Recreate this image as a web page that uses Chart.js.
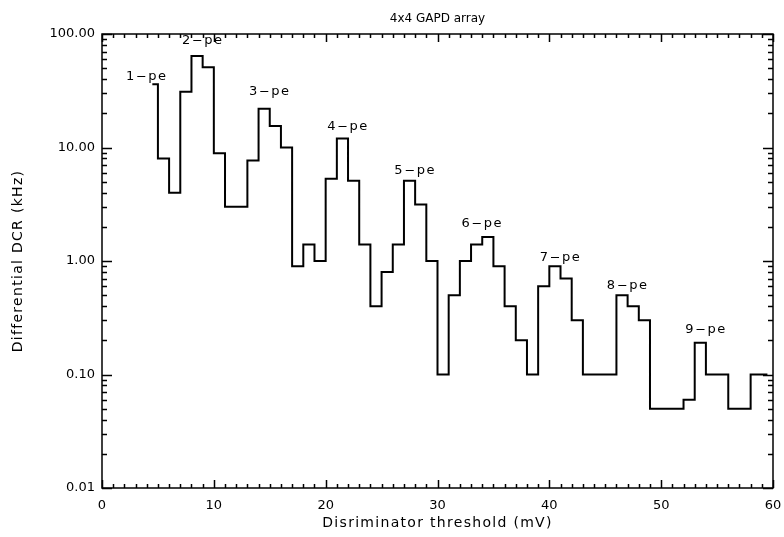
<!DOCTYPE html>
<html>
<head>
<meta charset="utf-8">
<title>4x4 GAPD array</title>
<script src="https://cdn.jsdelivr.net/npm/chart.js@4.4.1/dist/chart.umd.min.js"></script>
<style>
  html, body { margin: 0; padding: 0; background: #fff; }
  #wrap { width: 784px; height: 537px; }
</style>
</head>
<body>
<div id="wrap"><canvas id="chartDcr" width="784" height="537"></canvas></div>
<script>
// ── Differential DCR per 1 mV threshold bin (bin centres) ────────────────
const thresholdMv = [
    4.5, 5.5, 6.5, 7.5, 8.5, 9.5, 10.5, 11.5, 12.5, 13.5,
    14.5, 15.5, 16.5, 17.5, 18.5, 19.5, 20.5, 21.5, 22.5, 23.5,
    24.5, 25.5, 26.5, 27.5, 28.5, 29.5, 30.5, 31.5, 32.5, 33.5,
    34.5, 35.5, 36.5, 37.5, 38.5, 39.5, 40.5, 41.5, 42.5, 43.5,
    44.5, 45.5, 46.5, 47.5, 48.5, 49.5, 50.5, 51.5, 52.5, 53.5,
    54.5, 55.5, 56.5, 57.5, 58.5, 59.5
];
const dcrKhz = [
    36, 8, 4, 31, 64, 51, 8.9, 3, 3, 7.7,
    22, 15.5, 10, 0.9, 1.4, 1.0, 5.3, 12, 5.1, 1.4,
    0.4, 0.8, 1.4, 5.1, 3.15, 1.0, 0.1, 0.5, 1.0, 1.4,
    1.63, 0.9, 0.4, 0.2, 0.1, 0.6, 0.9, 0.7, 0.3, 0.1,
    0.1, 0.1, 0.5, 0.4, 0.3, 0.05, 0.05, 0.05, 0.06, 0.19,
    0.1, 0.1, 0.05, 0.05, 0.1, 0.1
];

// photo-electron peak labels (centre x, baseline y in data units)
const peLabels   = ['1-pe', '2-pe', '3-pe', '4-pe', '5-pe', '6-pe', '7-pe', '8-pe', '9-pe'];
const peLabelMv  = [4, 9, 15, 22, 28, 34, 41, 47, 54];
const peLabelKhz = [39, 82, 29, 14.4, 5.8, 2.0, 1.0, 0.57, 0.23];

const xTicks = [0, 10, 20, 30, 40, 50, 60];
const yTicks = [0.01, 0.1, 1, 10, 100];

const TITLE  = '4x4 GAPD array';
const XTITLE = 'Disriminator threshold (mV)';
const YTITLE = 'Differential DCR (kHz)';
const FONT = 'DejaVu Sans';

// "n-pe" with a long dash, centred on cx
function drawPeLabel(ctx, text, cx, by) {
    const [num, rest] = text.split('-');
    const dashW = 11, gap = 1.5;
    ctx.letterSpacing = '0px';
    const wNum  = ctx.measureText(num).width;
    const wDash = ctx.measureText('-').width;
    ctx.letterSpacing = '1.5px';
    const wRest = ctx.measureText(rest).width;
    let x0 = cx - (wNum + gap + dashW + gap + wRest) / 2;

    ctx.letterSpacing = '0px';
    ctx.fillText(num, x0, by);
    x0 += wNum + gap;
    ctx.save();
    ctx.translate(x0, by);
    ctx.scale(dashW / wDash, 1);
    ctx.fillText('-', 0, 0);
    ctx.restore();
    x0 += dashW + gap;
    ctx.letterSpacing = '1.5px';
    ctx.fillText(rest, x0, by);
    ctx.letterSpacing = '0px';
}

// ── Frame with inward ticks on all four sides, titles and peak labels ────
const frameTicks = {
    id: 'frameTicks',
    afterDatasetsDraw(chart) {
        const { ctx, chartArea: a, scales: { x, y } } = chart;
        ctx.save();
        ctx.strokeStyle = '#000';
        ctx.lineWidth = 1.5;
        ctx.strokeRect(a.left, a.top, a.right - a.left, a.bottom - a.top);

        ctx.beginPath();
        const tickX = (v, len) => {
            const px = Math.round(x.getPixelForValue(v)) + 0.5;
            ctx.moveTo(px, a.bottom); ctx.lineTo(px, a.bottom - len);
            ctx.moveTo(px, a.top);    ctx.lineTo(px, a.top + len);
        };
        const tickY = (v, len) => {
            const py = Math.round(y.getPixelForValue(v)) + 0.5;
            ctx.moveTo(a.left, py);  ctx.lineTo(a.left + len, py);
            ctx.moveTo(a.right, py); ctx.lineTo(a.right - len, py);
        };
        for (let v = x.min; v <= x.max; v++) tickX(v, v % 10 === 0 ? 8 : 4);
        yTicks.forEach((d, i) => {
            tickY(d, 10);
            if (i < yTicks.length - 1) for (let m = 2; m <= 9; m++) tickY(d * m, 5);
        });
        ctx.stroke();

        ctx.fillStyle = '#000';
        ctx.textAlign = 'center';
        const cx = (a.left + a.right) / 2;

        // plot title
        ctx.font = '12px "' + FONT + '"';
        ctx.textBaseline = 'middle';
        ctx.fillText(TITLE, cx, 19);

        // axis titles (wide-spaced like the plotting package font)
        ctx.font = '14px "' + FONT + '"';
        ctx.letterSpacing = '1.3px';
        ctx.fillText(XTITLE, cx, 523);
        ctx.save();
        ctx.translate(18, (a.top + a.bottom) / 2);
        ctx.rotate(-Math.PI / 2);
        ctx.fillText(YTITLE, 0, 0);
        ctx.restore();

        // peak labels
        ctx.font = '13px "' + FONT + '"';
        ctx.textAlign = 'left';
        ctx.textBaseline = 'alphabetic';
        peLabels.forEach((t, i) => {
            drawPeLabel(ctx, t, x.getPixelForValue(peLabelMv[i]), y.getPixelForValue(peLabelKhz[i]));
        });
        ctx.restore();
    }
};

const ctxDcr = document.getElementById('chartDcr');
new Chart(ctxDcr, {
    type: 'line',
    data: {
        datasets: [{
            data: thresholdMv.map((t, i) => ({ x: t, y: dcrKhz[i] })),
            borderColor: '#000',
            borderWidth: 2,
            stepped: 'middle',
            pointRadius: 0,
            fill: false,
        }]
    },
    options: {
        responsive: false,
        animation: false,
        layout: { padding: { top: 34, right: 11 } },
        plugins: {
            legend: { display: false },
            tooltip: { enabled: false },
            title: { display: false }
        },
        scales: {
            x: {
                type: 'linear',
                min: 0,
                max: 60,
                afterBuildTicks: s => { s.ticks = xTicks.map(v => ({ value: v })); },
                afterFit: s => { s.height = 49; s.paddingLeft = 0; s.paddingRight = 0; },
                grid: { display: false, drawTicks: false },
                border: { display: false },
                ticks: { color: '#000', font: { family: FONT, size: 13 }, padding: 10, maxRotation: 0 }
            },
            y: {
                type: 'logarithmic',
                min: 0.01,
                max: 100,
                afterBuildTicks: s => { s.ticks = yTicks.map(v => ({ value: v })); },
                afterFit: s => { s.width = 102; },
                grid: { display: false, drawTicks: false },
                border: { display: false },
                ticks: { color: '#000', font: { family: FONT, size: 13 }, padding: 7, callback: v => Number(v).toFixed(2) }
            }
        }
    },
    plugins: [frameTicks]
});
</script>
</body>
</html>
